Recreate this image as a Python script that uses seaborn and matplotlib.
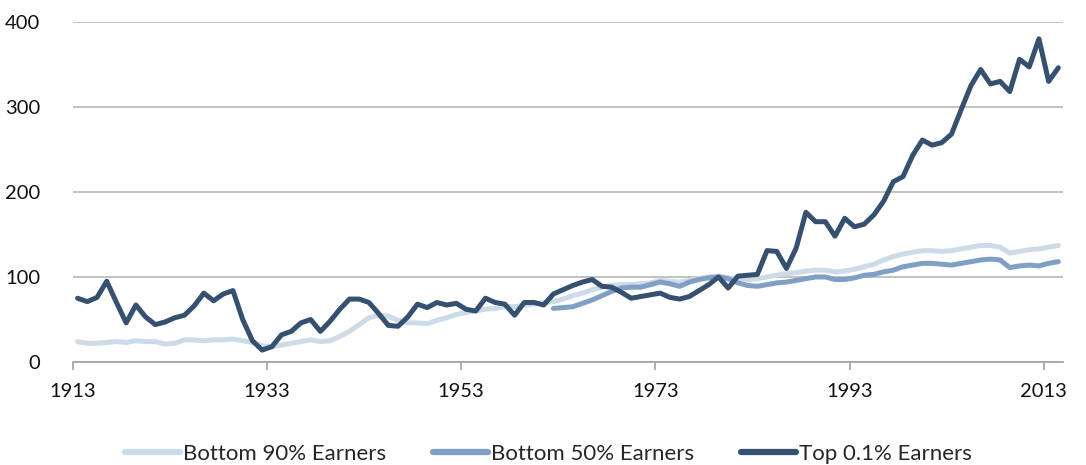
import numpy as np
import pandas as pd
import matplotlib
matplotlib.use("Agg")
import matplotlib.pyplot as plt
import seaborn as sns

# DATA (index)
years = list(range(1913, 2015))

top_01 = [75, 71, 76, 95, 70, 46, 67, 53, 44, 47, 52, 55, 66, 81, 72, 80, 84, 50, 25, 14,
          18, 32, 36, 46, 50, 36, 48, 62, 74, 74, 70, 57, 43, 42, 53, 68, 64, 70, 67, 69,
          62, 60, 75, 70, 68, 55, 70, 70, 67, 80, 85, 90, 94, 97, 89, 88, 82, 75, 77, 79,
          81, 76, 74, 77, 84, 91, 100, 87, 101, 102, 103, 131, 130, 110, 134, 176, 165, 165, 148, 169,
          159, 162, 173, 189, 212, 218, 243, 261, 255, 258, 268, 297, 325, 344, 327, 330, 318, 356, 347, 380,
          330, 346]

bottom_90 = [24, 22, 22, 23, 24, 23, 25, 24, 24, 21, 22, 26, 26, 25, 26, 26, 27, 25, 23, 19,
             18, 20, 22, 24, 26, 24, 25, 30, 36, 44, 52, 55, 54, 49, 46, 46, 45, 49, 52, 56,
             58, 60, 62, 63, 65, 65, 67, 68, 70, 71, 74, 78, 81, 85, 88, 90, 91, 91, 92, 93,
             96, 95, 94, 96, 98, 100, 101, 99, 98, 97, 98, 100, 102, 104, 105, 107, 108, 108, 106, 107,
             109, 112, 115, 120, 124, 127, 129, 131, 131, 130, 131, 133, 135, 137, 137, 135, 128, 130, 132, 133,
             135, 137]

years_50 = list(range(1962, 2015))
bottom_50 = [63, 64, 65, 69, 73, 78, 83, 87, 88, 88, 91, 94, 92, 89, 94, 97, 99, 100, 98, 93,
             90, 89, 91, 93, 94, 96, 98, 100, 100, 97, 97, 99, 102, 103, 106, 108, 112, 114, 116, 116,
             115, 114, 116, 118, 120, 121, 120, 111, 113, 114, 113, 116, 118]

labels = ["Bottom 90% Earners", "Bottom 50% Earners", "Top 0.1% Earners"]
colors = ["#CDDAE7", "#7F9FC4", "#36506F"]

df = pd.concat([
    pd.DataFrame({"year": years, "value": bottom_90, "series": labels[0]}),
    pd.DataFrame({"year": years_50, "value": bottom_50, "series": labels[1]}),
    pd.DataFrame({"year": years, "value": top_01, "series": labels[2]}),
])

sns.set_style("white")
plt.rcParams["font.family"] = ["Lato", "DejaVu Sans"]

fig = plt.figure(figsize=(10.86, 4.65), dpi=100)
ax = fig.add_axes([0.067, 0.2215, 0.912, 0.7315])

sns.lineplot(data=df, x="year", y="value", hue="series", hue_order=labels,
             palette=colors, linewidth=3.6, ax=ax, legend=False)

ax.set_xlim(1912.5, 2014.5)
ax.set_ylim(0, 400)
ax.set_yticks([0, 100, 200, 300, 400])
tick_years = [1913, 1933, 1953, 1973, 1993, 2013]
ax.set_xticks([y - 0.5 for y in tick_years])
ax.set_xticklabels([str(y) for y in tick_years])
ax.set_xlabel("")
ax.set_ylabel("")

ax.grid(axis="y", color="#BDBDBD", linewidth=1.3)
ax.set_axisbelow(True)
for s in ["top", "right", "left"]:
    ax.spines[s].set_visible(False)
ax.spines["bottom"].set_color("#A6A6A6")
ax.spines["bottom"].set_linewidth(1.3)
ax.tick_params(axis="x", bottom=True, length=6, width=1.3, color="#A6A6A6",
               labelsize=14.5, pad=9, labelcolor="#111111")
ax.tick_params(axis="y", left=False, labelsize=14.5, pad=20, labelcolor="#111111")

handles = [plt.Line2D([], [], color=c, linewidth=4.5) for c in colors]
fig.legend(handles, labels, loc="lower center", bbox_to_anchor=(0.505, -0.04),
           ncol=3, frameon=False, fontsize=16, handlelength=2.5,
           handletextpad=0.12, columnspacing=2.1)

fig.savefig("out.png", dpi=100)
